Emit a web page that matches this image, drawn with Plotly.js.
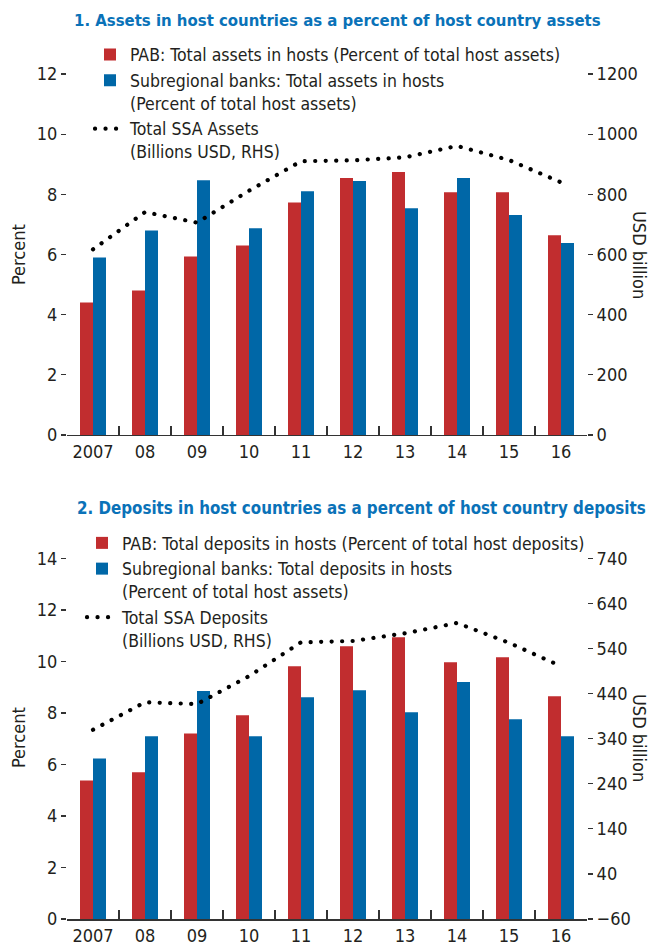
<!DOCTYPE html>
<html>
<head>
<meta charset="utf-8">
<script src="https://cdn.plot.ly/plotly-3.0.1.min.js"></script>
<style>
html,body{margin:0;padding:0;background:#fff;}
#chart{width:652px;height:946px;}
.js-line{stroke-linecap:round;}
</style>
</head>
<body>
<div id="chart"></div>
<script>
// ---- data ----
const years = ['2007','08','09','10','11','12','13','14','15','16'];
const pabAssets = [4.40, 4.80, 5.93, 6.30, 7.73, 8.54, 8.74, 8.07, 8.07, 6.64];
const subAssets = [5.90, 6.80, 8.47, 6.87, 8.10, 8.44, 7.54, 8.54, 7.31, 6.38];
const ssaAssets = [617, 741, 706, 812, 910, 913, 923, 961, 914, 840];
const pabDeposits = [5.38, 5.70, 7.20, 7.91, 9.82, 10.59, 10.94, 9.97, 10.17, 8.65];
const subDeposits = [6.23, 7.10, 8.85, 7.10, 8.61, 8.88, 8.03, 9.20, 7.76, 7.10];
const ssaDeposits = [360, 421, 417, 479, 554, 557, 574, 597, 553, 501];

const title1 = '1. Assets in host countries as a percent of host country assets';
const title2 = '2. Deposits in host countries as a percent of host country deposits';
const names1 = ['PAB: Total assets in hosts (Percent of total host assets)',
  'Subregional banks: Total assets in hosts<br>(Percent of total host assets)',
  'Total SSA Assets<br>(Billions USD, RHS)'];
const names2 = ['PAB: Total deposits in hosts (Percent of total host deposits)',
  'Subregional banks: Total deposits in hosts<br>(Percent of total host assets)',
  'Total SSA Deposits<br>(Billions USD, RHS)'];

// ---- style ----
const FONT = '"DejaVu Sans Condensed", "Liberation Sans Narrow", "Arial Narrow", sans-serif';
const TXT = '#231f20';
const RED = '#c12d2f';
const BLUE = '#0067a7';
const TBLUE = '#0a72b8';

function bar(y, name, color, xa, ya, leg) {
  return {type:'bar', x: years, y: y, name: name, marker:{color: color, line:{width:0}},
    xaxis: xa, yaxis: ya, legend: leg, hoverinfo:'none'};
}
function dots(y, name, xa, ya, leg) {
  return {type:'scatter', mode:'lines', x: years, y: y, name: name,
    line:{color:'#000', width:4.2, dash:'0.1px,10.4px'}, xaxis: xa, yaxis: ya, legend: leg, hoverinfo:'none'};
}

const data = [
  bar(pabAssets, names1[0], RED, 'x', 'y', 'legend'),
  bar(subAssets, names1[1], BLUE, 'x', 'y', 'legend'),
  dots(ssaAssets, names1[2], 'x', 'y2', 'legend'),
  bar(pabDeposits, names2[0], RED, 'x2', 'y3', 'legend2'),
  bar(subDeposits, names2[1], BLUE, 'x2', 'y3', 'legend2'),
  dots(ssaDeposits, names2[2], 'x2', 'y4', 'legend2')
];

const tickf = {family: FONT, size: 18, color: TXT};
function xax(anchor) {
  return {anchor: anchor, type:'category', range:[-0.5, 9.5], showline:true, linecolor:'#333', linewidth:1.5,
    ticks:'inside', tickson:'boundaries', ticklen:9, tickwidth:1.2, tickcolor:'#333',
    tickfont: tickf, showgrid:false, zeroline:false, fixedrange:true};
}
function yax(extra) {
  return Object.assign({showline:false, showgrid:false, zeroline:false, ticks:'outside', ticklen:5,
    tickwidth:1.2, tickcolor:'#333', tickfont: tickf, fixedrange:true}, extra);
}

const P1 = [0.5728, 1];
const P2 = [0, 0.4266];
const legFont = {family: FONT, size: 17.5, color: TXT};

const layout = {
  width: 652, height: 946,
  margin: {l: 67, r: 65, t: 74, b: 27, autoexpand: false},
  paper_bgcolor:'#fff', plot_bgcolor:'#fff',
  font: {family: FONT, color: TXT, size: 18},
  barmode:'group', bargap: 0.5, bargroupgap: 0,
  showlegend: true,
  xaxis: xax('y'),
  yaxis: yax({domain: P1, range:[0, 12], dtick: 2, tick0: 0}),
  yaxis2: yax({overlaying:'y', side:'right', range:[0, 1200], dtick: 200, tick0: 0}),
  xaxis2: xax('y3'),
  yaxis3: yax({domain: P2, range:[0, 14], dtick: 2, tick0: 0}),
  yaxis4: yax({overlaying:'y3', side:'right', range:[-60, 740], dtick: 100, tick0: -60}),
  legend: {xref:'container', yref:'container', x: 90/652, y: 1 - 36.5/946, xanchor:'left', yanchor:'top',
    bgcolor:'rgba(0,0,0,0)', borderwidth:0, valign:'top', traceorder:'normal', font: legFont},
  legend2: {xref:'container', yref:'container', x: 82/652, y: 1 - 525/946, xanchor:'left', yanchor:'top',
    bgcolor:'rgba(0,0,0,0)', borderwidth:0, valign:'top', traceorder:'normal', font: legFont},
  annotations: [
    {text:'<b>' + title1 + '</b>', xref:'paper', yref:'paper', x:(337-67)/520, y:(919-20)/845,
      xanchor:'center', yanchor:'middle', showarrow:false, font:{family: FONT, size: 16.6, color: TBLUE}},
    {text:'<b>' + title2 + '</b>', xref:'paper', yref:'paper', x:(361-67)/520, y:(919-508)/845,
      xanchor:'center', yanchor:'middle', showarrow:false, font:{family: FONT, size: 16.8, color: TBLUE}},
    {text:'Percent', xref:'paper', yref:'paper', x:(18-67)/520, y:(919-255)/845, textangle:-90,
      xanchor:'center', yanchor:'middle', showarrow:false, font:{family: FONT, size: 18, color: TXT}},
    {text:'Percent', xref:'paper', yref:'paper', x:(18-67)/520, y:(919-738)/845, textangle:-90,
      xanchor:'center', yanchor:'middle', showarrow:false, font:{family: FONT, size: 18, color: TXT}},
    {text:'USD billion', xref:'paper', yref:'paper', x:(640-67)/520, y:(919-255)/845, textangle:90,
      xanchor:'center', yanchor:'middle', showarrow:false, font:{family: FONT, size: 18, color: TXT}},
    {text:'USD billion', xref:'paper', yref:'paper', x:(640-67)/520, y:(919-738)/845, textangle:90,
      xanchor:'center', yanchor:'middle', showarrow:false, font:{family: FONT, size: 18, color: TXT}}
  ]
};

Plotly.newPlot('chart', data, layout, {displayModeBar:false, staticPlot:true});
</script>
</body>
</html>
